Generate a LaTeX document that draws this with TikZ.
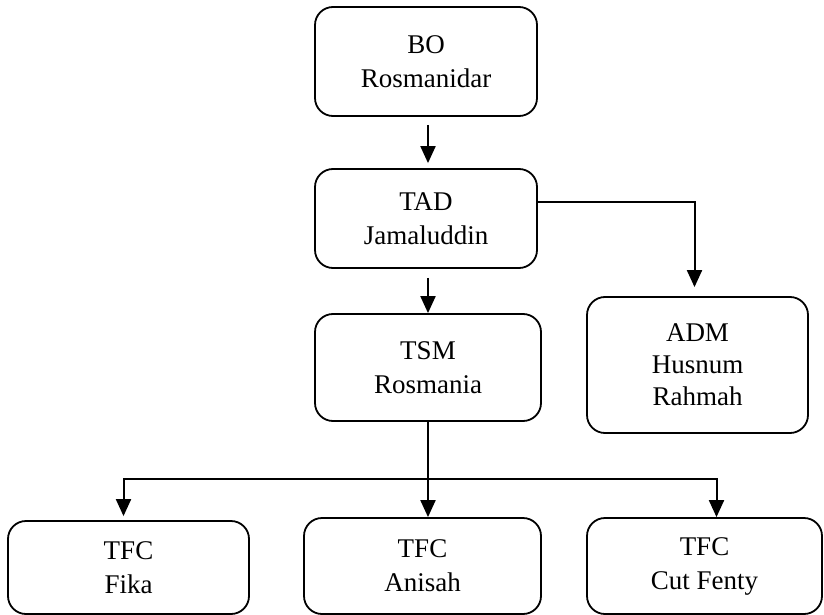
\documentclass[tikz,border=0pt]{standalone}
\usepackage{fontspec}
\setmainfont{Liberation Serif}
\usepackage{tikz}
\usetikzlibrary{arrows.meta, positioning, calc}

\begin{document}
\begin{tikzpicture}[
    x=1pt, y=-1pt,
    org_box/.style={draw, line width=1.8pt, rounded corners=18pt, align=center, inner sep=0pt,
        font=\fontsize{27}{34}\selectfont},
    link/.style={line width=2pt},
    link_arrow/.style={link, -{Triangle[length=17pt, width=15pt]}}
]
    \useasboundingbox (0,0) rectangle (824,615);

    % Top of the chart
    \node[org_box, minimum width=222pt, minimum height=109pt] (bo) at (426,61.5) {BO\\Rosmanidar};
    \node[org_box, minimum width=222pt, minimum height=99pt] (tad) at (426,218.5) {TAD\\Jamaluddin};

    % Middle row
    \node[org_box, minimum width=226pt, minimum height=107pt] (tsm) at (428,367.5) {TSM\\Rosmania};
    \node[org_box, minimum width=221pt, minimum height=136pt, font=\fontsize{27}{32}\selectfont]
        (adm) at (697.5,365) {ADM\\Husnum\\Rahmah};

    % TFC row (cut by the bottom edge)
    \node[org_box, minimum width=241pt, minimum height=93pt] (tfc_fika) at (128.5,567.5) {TFC\\Fika};
    \node[org_box, minimum width=237pt, minimum height=96pt] (tfc_anisah) at (422.5,566) {TFC\\Anisah};
    \node[org_box, minimum width=235pt, minimum height=96pt] (tfc_cut) at (704.5,566) {TFC\\Cut Fenty};

    % Arrows down the chain
    \draw[link_arrow, shorten <=8pt, shorten >=5pt] (bo.south -| tsm.north) -- (tad.north -| tsm.north);
    \draw[link_arrow, shorten <=9pt] (tad.south -| tsm.north) -- (tsm.north);
    \draw[link_arrow, shorten >=9pt] ([yshift=17pt]tad.east) -| ([xshift=-3pt]adm.north);

    % Split to the TFC boxes
    \coordinate (bus) at (tsm.south |- 0,479);
    \draw[link_arrow] (tsm.south) -- (tsm.south |- tfc_anisah.north);
    \draw[link_arrow, shorten >=4pt] (bus) -| ([xshift=-5pt]tfc_fika.north);
    \draw[link_arrow] (bus) -| ([xshift=12pt]tfc_cut.north);
\end{tikzpicture}
\end{document}
